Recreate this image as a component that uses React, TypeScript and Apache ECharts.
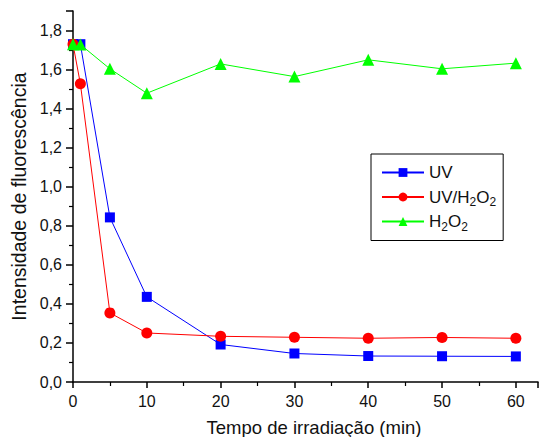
import React, { useEffect, useRef } from "react";
import * as echarts from "echarts";

const timesUV = [0, 1, 5, 10, 20, 30, 40, 50, 60];
const valuesUV = [1.73, 1.73, 0.843, 0.436, 0.192, 0.146, 0.133, 0.132, 0.131];
const timesUVH2O2 = [0, 1, 5, 10, 20, 30, 40, 50, 60];
const valuesUVH2O2 = [1.73, 1.527, 0.354, 0.251, 0.234, 0.229, 0.224, 0.228, 0.224];
const timesH2O2 = [0, 1, 5, 10, 20, 30, 40, 50, 60];
const valuesH2O2 = [1.73, 1.728, 1.604, 1.479, 1.629, 1.564, 1.65, 1.604, 1.633];

const seriesNames = ["UV", "UV/H2O2", "H2O2"];
const xTickLabels = ["0", "10", "20", "30", "40", "50", "60"];
const FONT = "Liberation Sans, Arial, sans-serif";

const pairs = (xs: number[], ys: number[]) => xs.map((x, i) => [x, ys[i]]);

export default function App() {
  const ref = useRef<HTMLDivElement>(null);
  useEffect(() => {
    if (!ref.current) return;
    const chart = echarts.init(ref.current, undefined, { renderer: "svg" });
    const axisLine = { show: true, onZero: false, lineStyle: { color: "#000", width: 1.5 } };
    chart.setOption({
      animation: false,
      backgroundColor: "#fff",
      grid: { left: 73, right: 5, top: 11, bottom: 55, outerBoundsMode: "none", containLabel: false },
      xAxis: {
        type: "value",
        min: 0,
        max: 63,
        interval: 10,
        axisLine,
        axisTick: { show: true, length: 6, lineStyle: { color: "#000", width: 1.5 } },
        minorTick: { show: true, splitNumber: 2, length: 4, lineStyle: { color: "#000", width: 1.2 } },
        splitLine: { show: false },
        axisLabel: {
          margin: 11,
          fontFamily: FONT,
          fontSize: 16,
          color: "#111",
          showMaxLabel: false,
          formatter: (v: number) => (xTickLabels.includes(String(v)) ? String(v) : ""),
        },
        name: "Tempo de irradiação (min)",
        nameLocation: "middle",
        nameGap: 36,
        nameTextStyle: { fontFamily: FONT, fontSize: 18.5, color: "#111", padding: [0, 0, 0, 17] },
      },
      yAxis: {
        type: "value",
        min: 0,
        max: 1.9,
        interval: 0.2,
        axisLine,
        axisTick: { show: true, length: 7, lineStyle: { color: "#000", width: 1.5 } },
        minorTick: { show: true, splitNumber: 2, length: 4, lineStyle: { color: "#000", width: 1.2 } },
        splitLine: { show: false },
        axisLabel: {
          margin: 11,
          fontFamily: FONT,
          fontSize: 16,
          color: "#111",
          showMaxLabel: false,
          formatter: (v: number) => v.toFixed(1).replace(".", ","),
        },
        name: "Intensidade de fluorescência",
        nameLocation: "middle",
        nameGap: 43,
        nameTextStyle: { fontFamily: FONT, fontSize: 19.5, color: "#111" },
      },
      legend: {
        orient: "vertical",
        left: 371,
        top: 154,
        padding: [10, 7, 8, 10],
        itemGap: 5,
        itemWidth: 42,
        itemHeight: 11,
        borderColor: "#000",
        borderWidth: 1,
        backgroundColor: "#fff",
        data: seriesNames,
        textStyle: {
          fontFamily: FONT,
          fontSize: 17,
          color: "#111",
          rich: {
            sub: { fontFamily: FONT, fontSize: 12, color: "#111", padding: [10, 0, 0, 0] },
          },
        },
        formatter: (name: string) =>
          name.includes("2") ? name.replace(/2/g, "{sub|2}") : name + "{sub| }",
      },
      series: [
        {
          name: seriesNames[0],
          type: "line",
          data: pairs(timesUV, valuesUV),
          symbol: "rect",
          symbolSize: 10,
          lineStyle: { color: "#0000ff", width: 1 },
          itemStyle: { color: "#0000ff" },
        },
        {
          name: seriesNames[1],
          type: "line",
          data: pairs(timesUVH2O2, valuesUVH2O2),
          symbol: "circle",
          symbolSize: 11,
          lineStyle: { color: "#ff0000", width: 1 },
          itemStyle: { color: "#ff0000" },
        },
        {
          name: seriesNames[2],
          type: "line",
          data: pairs(timesH2O2, valuesH2O2),
          symbol: "triangle",
          symbolSize: 12,
          lineStyle: { color: "#00ff00", width: 1 },
          itemStyle: { color: "#00ff00" },
        },
      ],
    });
    return () => chart.dispose();
  }, []);
  return (
    <div
      ref={ref}
      style={{ position: "fixed", left: 0, top: 0, width: 543, height: 437 }}
    />
  );
}
